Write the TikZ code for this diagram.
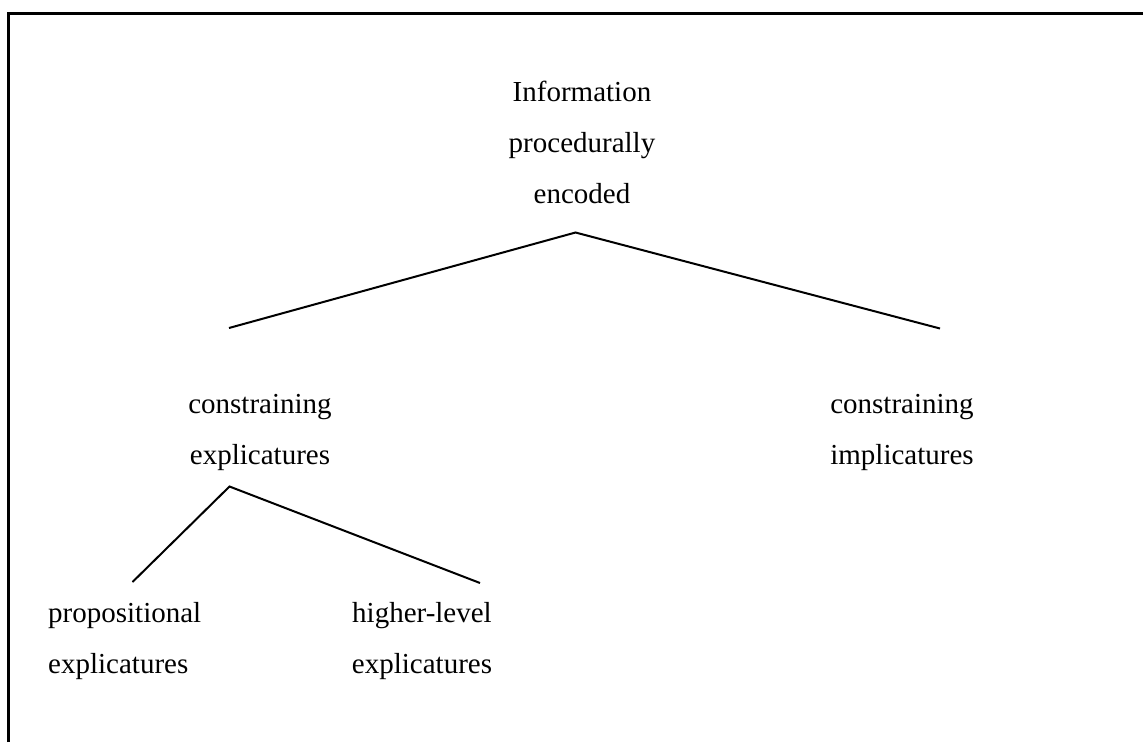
\documentclass[tikz,border=0pt]{standalone}
\usepackage{fontspec}
\setmainfont{Liberation Serif}
\begin{document}
\begin{tikzpicture}[x=1pt,y=-1pt,
  lbl/.style={inner sep=0pt, align=center, font=\fontsize{29}{51}\selectfont},
  lblL/.style={inner sep=0pt, align=left, font=\fontsize{29}{51}\selectfont},
  branch/.style={line width=2pt},
  frame/.style={line width=3pt}]
\useasboundingbox (0,0) rectangle (1143,742);
\draw[frame] (8.5,742) -- (8.5,13.5) -- (1143,13.5);
% labels (base anchor = baseline of the last line)
\node[lbl, anchor=base] (info) at (582,203) {Information\\procedurally\\encoded};
\node[lbl, anchor=base] (cexp) at (260,464) {constraining\\explicatures};
\node[lbl, anchor=base] (cimp) at (902,464) {constraining\\implicatures};
\node[lblL, anchor=base west] (prop) at (48,673) {propositional\\explicatures};
\node[lbl, anchor=base] (high) at (422,673) {higher-level\\explicatures};
% connector points
\coordinate (infoB) at (575.5,232.5);
\coordinate (cexpT) at (229,328);
\coordinate (cimpT) at (940,328.5);
\coordinate (cexpB) at (229.5,486.5);
\coordinate (propT) at (132.5,582);
\coordinate (highT) at (480,583);
\draw[branch] (cexpT) -- (infoB) -- (cimpT);
\draw[branch] (propT) -- (cexpB) -- (highT);
\end{tikzpicture}
\end{document}
